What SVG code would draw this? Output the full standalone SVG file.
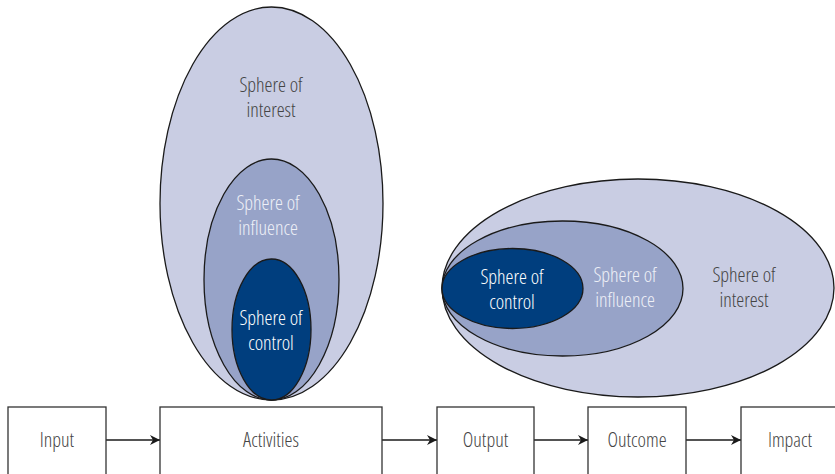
<svg xmlns="http://www.w3.org/2000/svg" width="835" height="474" viewBox="0 0 835 474">
<defs>
<marker id="arr" viewBox="0 0 10 10" refX="10" refY="5" markerWidth="10" markerHeight="10" markerUnits="userSpaceOnUse" orient="auto">
<path d="M0,0 L10,5 L0,10 L3,5 Z" fill="#1a1a1a"/>
</marker>
</defs>
<style>
.e{stroke:#1a1a1a;stroke-width:1.3}
.outer{fill:#c9cde3}
.mid{fill:#97a3c8}
.inn{fill:#003e7e}
.t{font-family:"Open Sans","Liberation Sans",sans-serif;font-stretch:condensed;font-weight:300;font-size:20px;text-anchor:middle}
.dk{fill:#444444}
.lt{fill:#eef0f7}
.wh{fill:#ffffff}
.box{fill:#ffffff;stroke:#333;stroke-width:1.3}
.c{stroke:#1a1a1a;stroke-width:1.5;fill:none;marker-end:url(#arr)}
</style>
<g id="vertical-spheres">
<g id="v-interest"><ellipse class="e outer" cx="271.5" cy="203.5" rx="111.5" ry="196.5"/><text class="t dk" x="271" y="92">Sphere of</text><text class="t dk" x="271" y="117">interest</text></g>
<g id="v-influence"><ellipse class="e mid" cx="271.5" cy="279.5" rx="67.5" ry="120.5"/><text class="t lt" x="268" y="210">Sphere of</text><text class="t lt" x="268" y="235">influence</text></g>
<g id="v-control"><ellipse class="e inn" cx="271.5" cy="329.5" rx="39.5" ry="70.5"/><text class="t wh" x="271" y="325">Sphere of</text><text class="t wh" x="271" y="350">control</text></g>
</g>
<g id="horizontal-spheres">
<g id="h-interest"><ellipse class="e outer" cx="638" cy="288" rx="196" ry="109"/><text class="t dk" x="744" y="282">Sphere of</text><text class="t dk" x="744" y="307">interest</text></g>
<g id="h-influence"><ellipse class="e mid" cx="562.5" cy="288.5" rx="120.5" ry="67.5"/><text class="t lt" x="625" y="282">Sphere of</text><text class="t lt" x="625" y="307">influence</text></g>
<g id="h-control"><ellipse class="e inn" cx="512.5" cy="288.5" rx="70.5" ry="40"/><text class="t wh" x="512" y="284">Sphere of</text><text class="t wh" x="512" y="309">control</text></g>
</g>
<g id="connectors">
<line class="c" x1="106" y1="440" x2="160" y2="440"/>
<line class="c" x1="382" y1="440" x2="437" y2="440"/>
<line class="c" x1="534" y1="440" x2="588" y2="440"/>
<line class="c" x1="686" y1="440" x2="741" y2="440"/>
</g>
<g id="input"><rect class="box" x="8" y="407" width="98" height="70"/><text class="t dk" x="57" y="447">Input</text></g>
<g id="activities"><rect class="box" x="160" y="407" width="222" height="70"/><text class="t dk" x="271" y="447">Activities</text></g>
<g id="output"><rect class="box" x="437" y="407" width="97" height="70"/><text class="t dk" x="485.5" y="447">Output</text></g>
<g id="outcome"><rect class="box" x="588" y="407" width="98" height="70"/><text class="t dk" x="637" y="447">Outcome</text></g>
<g id="impact"><rect class="box" x="741" y="407" width="98" height="70"/><text class="t dk" x="790" y="447">Impact</text></g>
</svg>
